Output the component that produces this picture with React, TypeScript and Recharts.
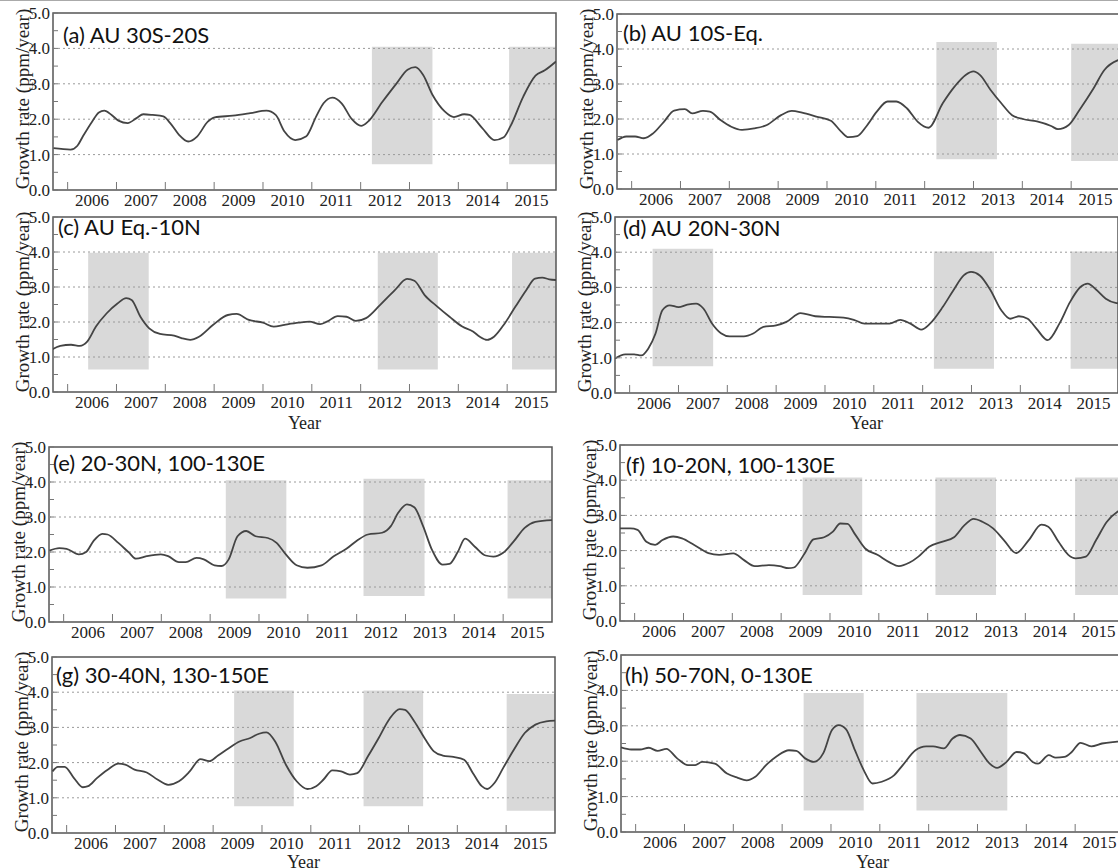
import React from "react";
import { LineChart, Line, XAxis, YAxis, ReferenceArea, ReferenceLine } from "recharts";

// x range shared by all panels (decimal years)
const X_START = 2005.7;
const X_END = 2016.0;

// tick labels sit mid-year, tick marks at the year boundary
const yearLabelTicks = [2006.5, 2007.5, 2008.5, 2009.5, 2010.5, 2011.5, 2012.5, 2013.5, 2014.5, 2015.5];
const rateTicks = [0, 0.5, 1, 1.5, 2, 2.5, 3, 3.5, 4, 4.5, 5];
const gridRates = [1, 2, 3, 4];

// growth rate series: [year, ppm/year]
const seriesA: [number, number][] = [
    [2005.71, 1.18], [2006.06, 1.14], [2006.2, 1.25], [2006.31, 1.51], [2006.5, 1.93], [2006.64, 2.19],
    [2006.75, 2.24], [2006.9, 2.12], [2007.04, 1.96], [2007.23, 1.89], [2007.41, 2.03], [2007.55, 2.14],
    [2007.74, 2.12], [2007.96, 2.08], [2008.1, 1.89], [2008.28, 1.56], [2008.47, 1.37], [2008.65, 1.51],
    [2008.87, 1.93], [2009.01, 2.05], [2009.38, 2.1], [2009.74, 2.17], [2010.07, 2.24], [2010.26, 2.12],
    [2010.44, 1.65], [2010.66, 1.41], [2010.88, 1.51], [2011.09, 2.08], [2011.24, 2.45], [2011.42, 2.61],
    [2011.61, 2.45], [2011.82, 2.0], [2012.01, 1.81], [2012.15, 1.93], [2012.45, 2.5], [2012.74, 3.02],
    [2012.96, 3.4], [2013.12, 3.47], [2013.28, 3.25], [2013.47, 2.69], [2013.72, 2.22], [2013.91, 2.06],
    [2014.12, 2.14], [2014.23, 2.12], [2014.49, 1.75], [2014.74, 1.41], [2014.93, 1.49], [2015.07, 1.81],
    [2015.33, 2.64], [2015.58, 3.23], [2015.77, 3.38], [2016.0, 3.63],
];
const seriesB: [number, number][] = [
    [2005.71, 1.4], [2005.89, 1.5], [2006.07, 1.5], [2006.25, 1.45], [2006.44, 1.59], [2006.66, 1.92],
    [2006.87, 2.24], [2007.09, 2.28], [2007.24, 2.16], [2007.46, 2.23], [2007.6, 2.21], [2007.82, 1.97],
    [2008.04, 1.78], [2008.26, 1.69], [2008.51, 1.73], [2008.77, 1.83], [2009.06, 2.11], [2009.28, 2.23],
    [2009.49, 2.18], [2009.78, 2.07], [2010.08, 1.95], [2010.29, 1.64], [2010.44, 1.48], [2010.62, 1.51],
    [2010.8, 1.78], [2011.02, 2.21], [2011.24, 2.5], [2011.42, 2.5], [2011.64, 2.3], [2011.86, 1.92],
    [2012.08, 1.75], [2012.37, 2.45], [2012.62, 2.94], [2012.84, 3.26], [2013.0, 3.36], [2013.13, 3.26],
    [2013.35, 2.83], [2013.57, 2.45], [2013.79, 2.11], [2014.01, 2.0], [2014.3, 1.93], [2014.59, 1.8],
    [2014.73, 1.71], [2014.95, 1.83], [2015.17, 2.26], [2015.46, 2.88], [2015.68, 3.4], [2015.96, 3.68],
    [2016.0, 3.7],
];
const seriesC: [number, number][] = [
    [2005.69, 1.22], [2005.85, 1.32], [2006.07, 1.35], [2006.25, 1.32], [2006.4, 1.44], [2006.58, 1.87],
    [2006.8, 2.25], [2007.02, 2.53], [2007.2, 2.68], [2007.31, 2.63], [2007.49, 2.15], [2007.67, 1.82],
    [2007.89, 1.66], [2008.18, 1.61], [2008.33, 1.54], [2008.51, 1.49], [2008.69, 1.58], [2008.98, 1.92],
    [2009.28, 2.2], [2009.46, 2.23], [2009.71, 2.06], [2010.0, 1.98], [2010.22, 1.87], [2010.44, 1.92],
    [2010.73, 1.98], [2010.95, 2.01], [2011.17, 1.94], [2011.31, 2.01], [2011.53, 2.17], [2011.71, 2.15],
    [2011.9, 2.03], [2012.11, 2.11], [2012.4, 2.49], [2012.7, 2.91], [2012.95, 3.23], [2013.1, 3.18],
    [2013.31, 2.77], [2013.57, 2.44], [2013.82, 2.15], [2014.08, 1.87], [2014.3, 1.73], [2014.44, 1.58],
    [2014.59, 1.49], [2014.73, 1.58], [2014.95, 1.96], [2015.17, 2.44], [2015.39, 2.91], [2015.57, 3.24],
    [2015.72, 3.27], [2015.86, 3.22], [2016.0, 3.2],
];
const seriesD: [number, number][] = [
    [2005.7, 0.98], [2005.91, 1.1], [2006.09, 1.1], [2006.24, 1.07], [2006.38, 1.26], [2006.53, 1.69],
    [2006.67, 2.35], [2006.82, 2.49], [2007.0, 2.44], [2007.18, 2.51], [2007.36, 2.54], [2007.51, 2.4],
    [2007.69, 1.97], [2007.87, 1.7], [2008.05, 1.61], [2008.34, 1.61], [2008.53, 1.69], [2008.74, 1.88],
    [2009.0, 1.92], [2009.21, 2.02], [2009.5, 2.27], [2009.8, 2.18], [2010.09, 2.16], [2010.38, 2.14],
    [2010.59, 2.08], [2010.81, 1.97], [2011.1, 1.97], [2011.32, 1.97], [2011.54, 2.08], [2011.75, 1.97],
    [2011.97, 1.8], [2012.15, 1.97], [2012.41, 2.44], [2012.63, 2.92], [2012.84, 3.34], [2012.99, 3.44],
    [2013.17, 3.34], [2013.39, 2.92], [2013.61, 2.35], [2013.79, 2.11], [2013.97, 2.18], [2014.15, 2.11],
    [2014.33, 1.83], [2014.56, 1.5], [2014.8, 1.97], [2015.02, 2.59], [2015.23, 3.01], [2015.38, 3.11],
    [2015.55, 2.94], [2015.75, 2.68], [2015.95, 2.56], [2016.0, 2.55],
];
const seriesE: [number, number][] = [
    [2005.71, 2.04], [2005.91, 2.11], [2006.06, 2.09], [2006.31, 1.93], [2006.46, 2.0], [2006.61, 2.31],
    [2006.79, 2.52], [2006.9, 2.5], [2007.12, 2.26], [2007.34, 1.98], [2007.48, 1.81], [2007.7, 1.88],
    [2007.99, 1.93], [2008.14, 1.88], [2008.36, 1.71], [2008.5, 1.71], [2008.72, 1.83], [2008.87, 1.79],
    [2009.09, 1.62], [2009.23, 1.6], [2009.38, 1.79], [2009.56, 2.45], [2009.74, 2.6], [2009.93, 2.45],
    [2010.18, 2.4], [2010.36, 2.26], [2010.55, 1.93], [2010.77, 1.62], [2010.99, 1.55], [2011.28, 1.62],
    [2011.53, 1.88], [2011.79, 2.09], [2012.01, 2.33], [2012.23, 2.5], [2012.52, 2.55], [2012.7, 2.74],
    [2012.85, 3.12], [2013.03, 3.36], [2013.18, 3.28], [2013.36, 2.74], [2013.54, 2.07], [2013.76, 1.64],
    [2013.9, 1.66], [2014.07, 2.0], [2014.22, 2.38], [2014.42, 2.15], [2014.64, 1.9], [2014.8, 1.87],
    [2015.0, 1.98], [2015.22, 2.31], [2015.44, 2.69], [2015.66, 2.86], [2016.0, 2.91],
];
const seriesF: [number, number][] = [
    [2005.69, 2.63], [2005.91, 2.63], [2006.06, 2.59], [2006.24, 2.25], [2006.42, 2.16], [2006.57, 2.3],
    [2006.79, 2.4], [2006.97, 2.35], [2007.22, 2.16], [2007.51, 1.93], [2007.73, 1.88], [2008.02, 1.92],
    [2008.24, 1.73], [2008.46, 1.56], [2008.75, 1.59], [2008.97, 1.56], [2009.15, 1.5], [2009.26, 1.52],
    [2009.48, 1.92], [2009.66, 2.32], [2009.88, 2.38], [2010.06, 2.54], [2010.21, 2.77], [2010.36, 2.76],
    [2010.5, 2.49], [2010.72, 2.06], [2010.97, 1.88], [2011.23, 1.66], [2011.41, 1.56], [2011.63, 1.66],
    [2011.81, 1.83], [2012.03, 2.11], [2012.29, 2.25], [2012.54, 2.38], [2012.76, 2.73], [2012.94, 2.9],
    [2013.12, 2.82], [2013.34, 2.63], [2013.56, 2.3], [2013.81, 1.93], [2014.07, 2.3], [2014.33, 2.74],
    [2014.47, 2.68], [2014.68, 2.25], [2014.88, 1.88], [2015.03, 1.78], [2015.24, 1.83], [2015.45, 2.3],
    [2015.67, 2.82], [2015.88, 3.1], [2016.0, 3.18],
];
const seriesG: [number, number][] = [
    [2005.71, 1.75], [2005.82, 1.88], [2005.96, 1.88], [2006.15, 1.56], [2006.33, 1.3], [2006.44, 1.33],
    [2006.62, 1.56], [2006.84, 1.8], [2007.06, 1.97], [2007.2, 1.94], [2007.39, 1.8], [2007.64, 1.72],
    [2007.86, 1.52], [2008.08, 1.37], [2008.3, 1.47], [2008.52, 1.75], [2008.74, 2.1], [2008.92, 2.04],
    [2009.1, 2.2], [2009.32, 2.41], [2009.54, 2.6], [2009.76, 2.7], [2009.94, 2.82], [2010.09, 2.86],
    [2010.27, 2.6], [2010.49, 1.94], [2010.71, 1.47], [2010.93, 1.25], [2011.11, 1.33], [2011.26, 1.52],
    [2011.44, 1.78], [2011.62, 1.75], [2011.8, 1.66], [2011.95, 1.7], [2012.17, 2.18], [2012.39, 2.7],
    [2012.61, 3.24], [2012.82, 3.52], [2012.93, 3.5], [2013.12, 3.17], [2013.34, 2.67], [2013.52, 2.32],
    [2013.7, 2.2], [2013.92, 2.16], [2014.14, 2.08], [2014.32, 1.7], [2014.5, 1.33], [2014.61, 1.25],
    [2014.76, 1.42], [2014.94, 1.85], [2015.16, 2.37], [2015.38, 2.84], [2015.6, 3.08], [2015.82, 3.17],
    [2016.0, 3.19],
];
const seriesH: [number, number][] = [
    [2005.7, 2.39], [2005.91, 2.33], [2006.09, 2.33], [2006.27, 2.38], [2006.45, 2.29], [2006.63, 2.35],
    [2006.85, 2.08], [2007.07, 1.89], [2007.22, 1.89], [2007.36, 1.98], [2007.62, 1.93], [2007.87, 1.65],
    [2008.09, 1.53], [2008.27, 1.46], [2008.45, 1.56], [2008.67, 1.89], [2008.89, 2.14], [2009.14, 2.31],
    [2009.29, 2.29], [2009.47, 2.08], [2009.65, 1.98], [2009.84, 2.22], [2010.02, 2.88], [2010.16, 3.02],
    [2010.31, 2.9], [2010.49, 2.31], [2010.67, 1.75], [2010.85, 1.37], [2011.04, 1.42], [2011.29, 1.6],
    [2011.47, 1.89], [2011.73, 2.31], [2011.95, 2.42], [2012.09, 2.42], [2012.31, 2.36], [2012.49, 2.64],
    [2012.64, 2.74], [2012.86, 2.64], [2013.07, 2.26], [2013.25, 1.93], [2013.4, 1.81], [2013.58, 1.96],
    [2013.8, 2.26], [2013.95, 2.22], [2014.13, 1.98], [2014.24, 1.93], [2014.46, 2.17], [2014.6, 2.1],
    [2014.78, 2.12], [2014.93, 2.26], [2015.11, 2.52], [2015.33, 2.42], [2015.55, 2.5], [2015.86, 2.55],
    [2016.0, 2.57],
];

// shaded periods: [from, to, low, high]
const shadeA = [[2012.23, 2013.47, 0.73, 4.05], [2015.04, 2016, 0.73, 4.05]];
const shadeB = [[2012.24, 2013.48, 0.85, 4.2], [2015.0, 2016, 0.8, 4.15]];
const shadeC = [[2006.42, 2007.66, 0.64, 3.98], [2012.35, 2013.58, 0.64, 3.98], [2015.1, 2016, 0.64, 3.98]];
const shadeD = [[2006.47, 2007.71, 0.76, 4.1], [2012.23, 2013.46, 0.69, 4.02], [2015.03, 2016, 0.69, 4.02]];
const shadeE = [[2009.32, 2010.56, 0.67, 4.05], [2012.14, 2013.39, 0.74, 4.09], [2015.09, 2016, 0.67, 4.05]];
const shadeF = [[2009.44, 2010.66, 0.74, 4.08], [2012.16, 2013.4, 0.74, 4.08], [2015.02, 2016, 0.74, 4.08]];
const shadeG = [[2009.43, 2010.65, 0.76, 4.05], [2012.08, 2013.3, 0.76, 4.05], [2015.01, 2016, 0.63, 3.95]];
const shadeH = [[2009.44, 2010.67, 0.61, 3.93], [2011.75, 2013.61, 0.61, 3.93]];

const SERIF = "'Liberation Serif', 'DejaVu Serif', serif";
const PLOT_W = 503;
const Y_AXIS_W = 60;
const PAD_T = 12;
const X_AXIS_H = 30;
const HALF_YEAR_PX = (0.5 * PLOT_W) / (X_END - X_START);

const panels = [
    { title: "(a) AU 30S-20S", series: seriesA, shades: shadeA, left: 53, top: 13, height: 177, tdx: 10, tdy: 22, yearDy: 0 },
    { title: "(b) AU 10S-Eq.", series: seriesB, shades: shadeB, left: 617, top: 14, height: 175, tdx: 6, tdy: 19, yearDy: 0 },
    { title: "(c) AU Eq.-10N", series: seriesC, shades: shadeC, left: 53, top: 217, height: 175, tdx: 5, tdy: 10, yearDy: 31 },
    { title: "(d) AU 20N-30N", series: seriesD, shades: shadeD, left: 615, top: 217, height: 176, tdx: 8, tdy: 11, yearDy: 30 },
    { title: "(e) 20-30N, 100-130E", series: seriesE, shades: shadeE, left: 49, top: 447, height: 175, tdx: 4, tdy: 16, yearDy: 0 },
    { title: "(f) 10-20N, 100-130E", series: seriesF, shades: shadeF, left: 620, top: 445, height: 176, tdx: 6, tdy: 20, yearDy: 0 },
    { title: "(g) 30-40N, 130-150E", series: seriesG, shades: shadeG, left: 52, top: 657, height: 176, tdx: 4, tdy: 18, yearDy: 29 },
    { title: "(h) 50-70N, 0-130E", series: seriesH, shades: shadeH, left: 621, top: 655, height: 177, tdx: 4, tdy: 20, yearDy: 30 },
];

function Panel({ p }: { p: (typeof panels)[number] }) {
    const data = p.series.map(([t, v]) => ({ t, v }));
    const axisY = PAD_T + p.height;

    const xTick = (props: any) => {
        const { x, payload } = props;
        const edge = x - HALF_YEAR_PX;
        return (
            <g>
                <line x1={edge} x2={edge} y1={axisY} y2={axisY - 8} stroke="#777" strokeWidth={1} />
                <text x={x} y={axisY + 16} textAnchor="middle" fontFamily={SERIF} fontSize={17} fill="#222">
                    {Math.floor(payload.value)}
                </text>
            </g>
        );
    };

    const yTick = (props: any) => {
        const { y, payload } = props;
        const major = Number.isInteger(payload.value);
        return (
            <g>
                <line x1={Y_AXIS_W} x2={Y_AXIS_W + 5} y1={y} y2={y} stroke="#777" strokeWidth={1} />
                {major && (
                    <text x={Y_AXIS_W - 3} y={y} dy="0.35em" textAnchor="end" fontFamily={SERIF} fontSize={17} fill="#222">
                        {payload.value.toFixed(1)}
                    </text>
                )}
            </g>
        );
    };

    return (
        <>
            <div style={{ position: "absolute", left: p.left - Y_AXIS_W, top: p.top - PAD_T }}>
                <LineChart
                    width={Y_AXIS_W + PLOT_W + 4}
                    height={PAD_T + p.height + X_AXIS_H + 4}
                    data={data}
                    margin={{ top: PAD_T, right: 4, bottom: 4, left: 0 }}
                >
                    <XAxis
                        type="number"
                        dataKey="t"
                        domain={[X_START, X_END]}
                        ticks={yearLabelTicks}
                        interval={0}
                        allowDataOverflow
                        axisLine={false}
                        tickLine={false}
                        height={X_AXIS_H}
                        tick={xTick}
                    />
                    <YAxis
                        type="number"
                        domain={[0, 5]}
                        ticks={rateTicks}
                        interval={0}
                        width={Y_AXIS_W}
                        axisLine={false}
                        tickLine={false}
                        tick={yTick}
                    />
                    {p.shades.map(([x1, x2, y1, y2], i) => (
                        <ReferenceArea key={i} x1={x1} x2={x2} y1={y1} y2={y2} fill="#d9d9d9" fillOpacity={1} stroke="none" />
                    ))}
                    {gridRates.map((r) => (
                        <ReferenceLine key={r} y={r} stroke="#9a9a9a" strokeDasharray="2 3" strokeWidth={1} />
                    ))}
                    <ReferenceArea x1={X_START} x2={X_END} y1={0} y2={5} fill="none" stroke="#555" strokeWidth={1.5} />
                    <Line
                        type="monotone"
                        dataKey="v"
                        stroke="#444"
                        strokeWidth={1.8}
                        dot={false}
                        isAnimationActive={false}
                    />
                </LineChart>
            </div>
            <div
                style={{
                    position: "absolute",
                    left: p.left + p.tdx,
                    top: p.top + p.tdy,
                    transform: "translateY(-50%)",
                    fontFamily: "Lato, 'Open Sans', sans-serif",
                    fontSize: 22,
                    color: "#111",
                    whiteSpace: "nowrap",
                    lineHeight: 1,
                }}
            >
                {p.title}
            </div>
            <div
                style={{
                    position: "absolute",
                    left: p.left - 31,
                    top: p.top + p.height / 2 - 3,
                    transform: "translate(-50%, -50%) rotate(180deg)",
                    writingMode: "vertical-rl",
                    fontFamily: SERIF,
                    fontSize: 19,
                    color: "#222",
                    whiteSpace: "nowrap",
                    lineHeight: 1,
                }}
            >
                Growth rate (ppm/year)
            </div>
            {p.yearDy > 0 && (
                <div
                    style={{
                        position: "absolute",
                        left: p.left + PLOT_W / 2,
                        top: p.top + p.height + p.yearDy,
                        transform: "translate(-50%, -50%)",
                        fontFamily: SERIF,
                        fontSize: 18,
                        color: "#222",
                        whiteSpace: "nowrap",
                        lineHeight: 1,
                    }}
                >
                    Year
                </div>
            )}
        </>
    );
}

export default function App() {
    return (
        <div
            style={{
                position: "absolute",
                left: 0,
                top: 0,
                width: 1118,
                height: 868,
                overflow: "hidden",
                background: "#fff",
            }}
        >
            <div style={{ position: "absolute", left: 0, top: 0, width: 1118, height: 1, background: "#aaa" }} />
            {panels.map((p) => (
                <Panel key={p.title} p={p} />
            ))}
        </div>
    );
}
